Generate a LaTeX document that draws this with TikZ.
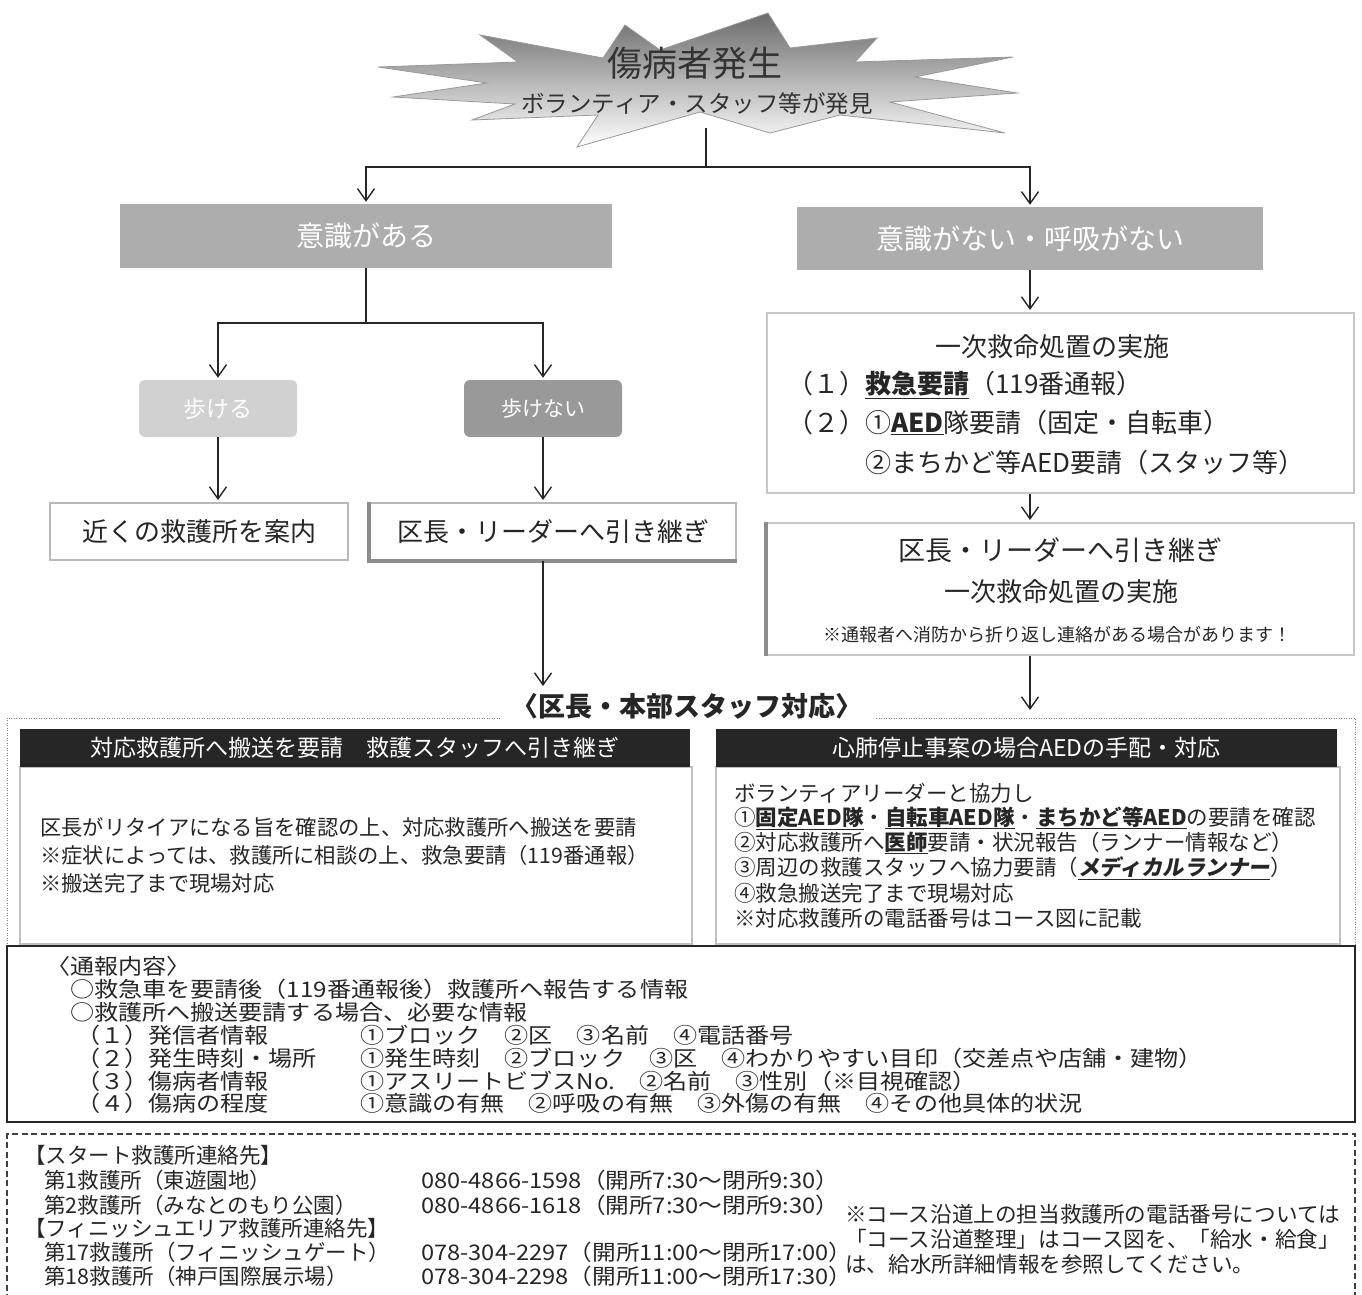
\documentclass[tikz,border=0pt]{standalone}
\usepackage{fontspec}
\setmainfont{Noto Sans CJK JP}
\newfontfamily\wideJP{Noto Sans CJK JP}[FakeStretch=1.12]
\newfontfamily\phoneJP{Noto Sans CJK JP}[FakeStretch=1.1]
\usetikzlibrary{arrows.meta}
\newcommand\myfs[1]{\fontsize{#1}{#1}\selectfont}
\newcommand\ulb[1]{\underline{\textbf{#1}}}
\tikzset{
  ln/.style={line width=1.6pt, draw=black!85},
  arr/.style={ln, -{Straight Barb[length=12pt,width=17pt,line width=1.4pt]}, shorten >=2pt},
  gbox/.style={fill=black!32, text=white, inner sep=0pt},
  walkbox/.style={rounded corners=6pt, inner sep=0pt, text=white, minimum width=158pt, minimum height=57pt},
  wbox/.style={draw=black!28, line width=2pt, inner sep=0pt, text=black!85},
  hdr/.style={fill=black!85, text=white, inner sep=0pt, minimum height=38pt, font=\myfs{23pt}},
  bodybox/.style={draw=black!25, line width=1.5pt, inner sep=0pt},
  tx/.style={anchor=west, inner sep=0pt, text=black!85},
  ctx/.style={inner sep=0pt, text=black!85},
  dotsty/.style={draw=black!50, line width=0.8pt, dash pattern=on 1pt off 1.5pt},
}
\begin{document}
\begin{tikzpicture}[x=1pt,y=-1pt]
\useasboundingbox (0,0) rectangle (1362,1295);
\fill[white] (0,0) rectangle (1362,1295);

% starburst
\shade[top color=black!58, bottom color=white, draw=black!40, line width=0.8pt]
 (480,35) -- (603,58) -- (625,25) -- (660,50) -- (768,13) -- (790,48) -- (877,38)
 -- (855,62) -- (1013,57) -- (915,77) -- (1017,93) -- (890,102) -- (1005,133)
 -- (840,115) -- (770,133) -- (700,112) -- (577,147) -- (598,115) -- (472,120)
 -- (515,104) -- (393,97) -- (487,83) -- (378,67) -- (518,62) -- cycle;
\node[ctx, font=\myfs{35pt}, text=black!80] (burstT) at (695,63) {傷病者発生};
\node[ctx, font=\myfs{23.5pt}, text=black!80] (burstS) at (697,104) {ボランティア・スタッフ等が発見};

\coordinate (bstem) at (706,128);
\coordinate (bsplit) at (706,167);

% level 1
\node[gbox, minimum width=492pt, minimum height=64pt, font=\myfs{28pt}] (c1) at (366,236) {意識がある};
\node[gbox, minimum width=466pt, minimum height=63pt, font=\myfs{28pt}] (c2) at (1030,238.5) {意識がない・呼吸がない};

\draw[ln] (bstem) -- (bsplit);
\draw[arr] (bsplit) -| (c1.north);
\draw[arr] (bsplit) -| (c2.north);

% walk boxes
\node[walkbox, fill=black!18, font=\myfs{23pt}] (w1) at (218,408.5) {歩ける};
\node[walkbox, fill=black!40, font=\myfs{21pt}] (w2) at (543,408.5) {歩けない};
\coordinate (c1split) at (366,323);
\draw[ln] (c1.south) -- (c1split);
\draw[arr] (c1split) -| (w1.north);
\draw[arr] (c1split) -| (w2.north);

% outcome boxes left
\node[wbox, minimum width=298pt, minimum height=57pt, font=\myfs{26pt}] (n1) at (199,531.5) {近くの救護所を案内};
\node[wbox, minimum width=366pt, minimum height=57pt, font=\myfs{26pt}] (n2) at (553,531.5) {区長・リーダーへ引き継ぎ};
\draw[draw=black!45, line width=3.5pt] (n2.north west) -- (n2.south west) -- (n2.south east);
\draw[arr] (w1.south) -- (w1.south |- n1.north);
\draw[arr] (w2.south) -- (w2.south |- n2.north);
\coordinate (kend) at (543,688);
\draw[arr] (w2.south |- n2.south) -- (kend);

% right column
\node[wbox, draw=black!22, minimum width=587pt, minimum height=180pt] (r1) at (1060.5,403) {};
\node[ctx, font=\myfs{26pt}] (r1a) at (1052,347) {一次救命処置の実施};
\node[tx, font=\myfs{26pt}] (r1b) at (787,385) {（１）\ulb{救急要請}（119番通報）};
\node[tx, font=\myfs{26pt}] (r1c) at (787,423) {（２）①\ulb{AED}隊要請（固定・自転車）};
\node[tx, font=\myfs{26pt}] (r1d) at (865,463) {②まちかど等AED要請（スタッフ等）};

\node[wbox, draw=black!22, minimum width=587pt, minimum height=132pt] (r2) at (1060.5,589) {};
\draw[draw=black!45, line width=4pt] (r2.north west) -- (r2.south west);
\node[ctx, font=\myfs{27pt}] (r2a) at (1060,550) {区長・リーダーへ引き継ぎ};
\node[ctx, font=\myfs{26pt}] (r2b) at (1061,592) {一次救命処置の実施};
\node[ctx, font=\myfs{18pt}] (r2c) at (1057,635) {※通報者へ消防から折り返し連絡がある場合があります！};

\draw[arr] (c2.south) -- (c2.south |- r1.north);
\draw[arr] (c2.south |- r1.south) -- (c2.south |- r2.north);
\coordinate (rend) at (1030,712);
\draw[arr] (c2.south |- r2.south) -- (rend);

% title and dotted frame
\node[ctx, font=\myfs{27pt}\bfseries] (ttl) at (687,706) {〈区長・本部スタッフ対応〉};
\draw[dotsty] (500,718) -- (7,718) -- (7,946);
\draw[dotsty] (876,718) -- (1355,718) -- (1355,946);

% left panel
\node[bodybox, minimum width=672pt, minimum height=177pt] (bL) at (356,855.5) {};
\node[hdr, minimum width=670pt] (hL) at (355,748) {対応救護所へ搬送を要請　救護スタッフへ引き継ぎ};
\node[tx, font=\myfs{21.3pt}] (L1) at (40,827) {区長がリタイアになる旨を確認の上、対応救護所へ搬送を要請};
\node[tx, font=\myfs{21.3pt}] (L2) at (40,855) {※症状によっては、救護所に相談の上、救急要請（119番通報）};
\node[tx, font=\myfs{21.3pt}] (L3) at (40,883) {※搬送完了まで現場対応};

% right panel
\node[bodybox, minimum width=624pt, minimum height=177pt] (bR) at (1028,855.5) {};
\node[hdr, minimum width=621pt] (hR) at (1026.5,748) {心肺停止事案の場合AEDの手配・対応};
\node[tx, font=\myfs{21.5pt}] (R1) at (734,793) {ボランティアリーダーと協力し};
\node[tx, font=\myfs{21.5pt}] (R2) at (734,818) {①\ulb{固定AED隊}・\ulb{自転車AED隊}・\ulb{まちかど等AED}の要請を確認};
\node[tx, font=\myfs{21.5pt}] (R3) at (734,843) {②対応救護所へ\ulb{医師}要請・状況報告（ランナー情報など）};
\node[tx, font=\myfs{21.5pt}] (R4) at (734,868) {③周辺の救護スタッフへ協力要請（\underline{\textbf{\addfontfeature{FakeSlant=0.18}メディカルランナー}}）};
\node[tx, font=\myfs{21.5pt}] (R5) at (734,893) {④救急搬送完了まで現場対応};
\node[tx, font=\myfs{21.5pt}] (R6) at (734,918) {※対応救護所の電話番号はコース図に記載};

% report box
\node[draw=black!85, line width=1.4pt, inner sep=0pt, minimum width=1348pt, minimum height=176pt] (tsuho) at (681,1034) {};
\begin{scope}[every node/.style={tx, font=\wideJP\myfs{21.5pt}}]
\node (T0) at (46,966) {〈通報内容〉};
\node (T1) at (70,989) {○救急車を要請後（119番通報後）救護所へ報告する情報};
\node (T2) at (70,1012) {○救護所へ搬送要請する場合、必要な情報};
\node (T3a) at (76,1035) {（１）発信者情報};
\node (T4a) at (76,1058) {（２）発生時刻・場所};
\node (T5a) at (76,1081) {（３）傷病者情報};
\node (T6a) at (76,1103) {（４）傷病の程度};
\node (T3b) at (360,1035) {①ブロック　②区　③名前　④電話番号};
\node (T4b) at (360,1058) {①発生時刻　②ブロック　③区　④わかりやすい目印（交差点や店舗・建物）};
\node (T5b) at (360,1081) {①アスリートビブスNo.　②名前　③性別（※目視確認）};
\node (T6b) at (360,1103) {①意識の有無　②呼吸の有無　③外傷の有無　④その他具体的状況};
\end{scope}

% contacts box
\draw[draw=black!75, line width=1.2pt, dash pattern=on 6pt off 3.5pt] (7,1300) -- (7,1134) -- (1355,1134) -- (1355,1300);
\begin{scope}[every node/.style={tx, font=\myfs{21.5pt}}]
\node (K0) at (24,1155) {【スタート救護所連絡先】};
\node (K1) at (44,1180) {第1救護所（東遊園地）};
\node (K2) at (44,1205) {第2救護所（みなとのもり公園）};
\node (K3) at (24,1228) {【フィニッシュエリア救護所連絡先】};
\node (K4) at (44,1252) {第17救護所（フィニッシュゲート）};
\node (K5) at (44,1276) {第18救護所（神戸国際展示場）};
\end{scope}
\begin{scope}[every node/.style={tx, font=\phoneJP\myfs{21.5pt}}]
\node (P1) at (421,1180) {080-4866-1598（開所7:30〜閉所9:30）};
\node (P2) at (421,1205) {080-4866-1618（開所7:30〜閉所9:30）};
\node (P4) at (421,1252) {078-304-2297（開所11:00〜閉所17:00）};
\node (P5) at (421,1276) {078-304-2298（開所11:00〜閉所17:30）};
\end{scope}
\begin{scope}[every node/.style={tx, font=\myfs{21.6pt}}]
\node (N1) at (845,1214) {※コース沿道上の担当救護所の電話番号については};
\node (N2) at (845,1239) {「コース沿道整理」はコース図を、「給水・給食」};
\node (N3) at (845,1264) {は、給水所詳細情報を参照してください。};
\end{scope}
\end{tikzpicture}
\end{document}
